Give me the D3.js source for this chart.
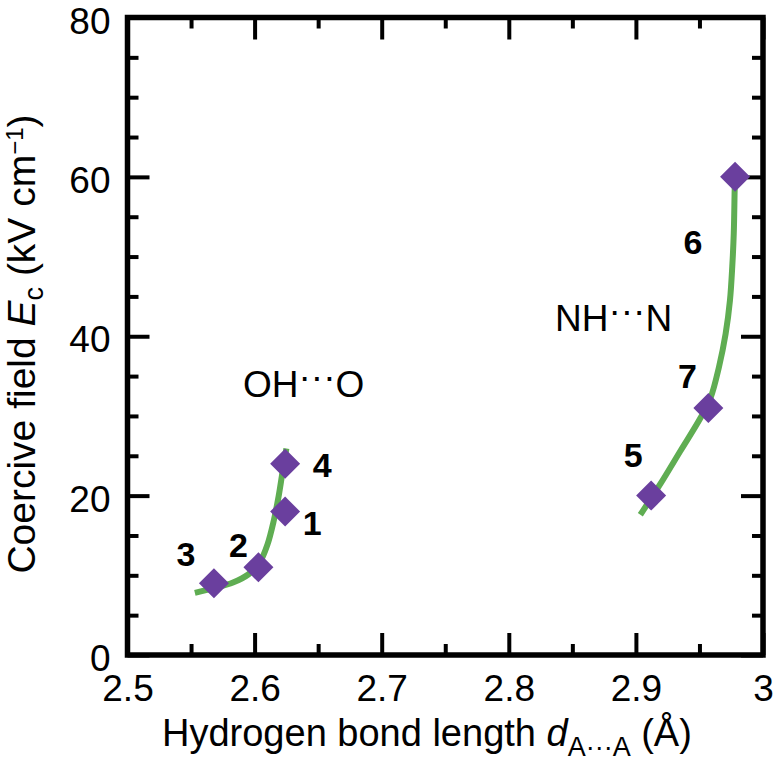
<!DOCTYPE html>
<html>
<head>
<meta charset="utf-8">
<script src="https://cdn.jsdelivr.net/npm/d3@7"></script>
<style>
  body { margin: 0; background: #ffffff; }
  text { font-family: "Liberation Sans", Arial, Helvetica, sans-serif; }
</style>
</head>
<body>
<div id="my_dataviz_coercive"></div>
<script>
// data
const oh_labels = ["1", "2", "3", "4"];
const oh_length = [2.624, 2.603, 2.568, 2.624];
const oh_field = [18, 11, 9, 24];

const nh_labels = ["5", "6", "7"];
const nh_length = [2.912, 2.978, 2.957];
const nh_field = [20, 60, 31];

// fitted guide curves
const oh_curve_x = [2.553, 2.568, 2.583, 2.595, 2.604, 2.610, 2.615, 2.619, 2.622, 2.625];
const oh_curve_y = [7.8, 8.4, 9.1, 10.1, 11.6, 13.8, 16.8, 20.0, 23.0, 25.9];
const nh_curve_x = [2.9035, 2.919, 2.935, 2.951, 2.9588, 2.9653, 2.9706, 2.974, 2.9758, 2.977, 2.9777, 2.978];
const nh_curve_y = [17.6, 21.4, 25.6, 29.8, 32.3, 36.1, 40.3, 44.5, 48.7, 52.9, 58.3, 60];

// ticks
const x_ticks = [2.5, 2.6, 2.7, 2.8, 2.9, 3.0];
const x_tick_labels = ["2.5", "2.6", "2.7", "2.8", "2.9", "3"];
const x_minor = [2.55, 2.65, 2.75, 2.85, 2.95];
const y_ticks = [0, 20, 40, 60, 80];
const y_tick_labels = ["0", "20", "40", "60", "80"];
const y_minor = [5, 10, 15, 25, 30, 35, 45, 50, 55, 65, 70, 75];

function generate_svg_coercive(){
  const margin = {top: 17.5, right: 12, bottom: 118, left: 127.5};
  const width = 775 - margin.left - margin.right;
  const height = 773 - margin.top - margin.bottom;

  const purple = "#6a3f9e";
  const green = "#5fad52";

  const svg = d3.select("#my_dataviz_coercive")
    .append("svg")
      .attr("width", 775)
      .attr("height", 773)
    .append("g")
      .attr("transform", `translate(${margin.left}, ${margin.top})`);

  const x = d3.scaleLinear().domain([2.5, 3]).range([0, width]);
  const y = d3.scaleLinear().domain([0, 80]).range([height, 0]);

  // axes, ticks pointing inward on all four sides
  function styleAxis(g){
    g.attr("font-size", null).attr("font-family", null);
    g.select(".domain").remove();
    g.selectAll(".tick line").attr("stroke", "#000").attr("stroke-width", 4);
    g.selectAll(".tick text")
      .style("font-size", "37px")
      .style("fill", "#000");
  }

  svg.append("g")
    .attr("transform", `translate(0, ${height})`)
    .call(d3.axisBottom(x).tickValues(x_ticks).tickSize(-22).tickPadding(20)
      .tickFormat((d, i) => x_tick_labels[i]))
    .call(styleAxis);
  svg.append("g")
    .attr("transform", `translate(0, ${height})`)
    .call(d3.axisBottom(x).tickValues(x_minor).tickSize(-11).tickFormat(""))
    .call(styleAxis);
  svg.append("g")
    .call(d3.axisTop(x).tickValues(x_ticks).tickSize(-22).tickFormat(""))
    .call(styleAxis);
  svg.append("g")
    .call(d3.axisTop(x).tickValues(x_minor).tickSize(-11).tickFormat(""))
    .call(styleAxis);

  svg.append("g")
    .call(d3.axisLeft(y).tickValues(y_ticks).tickSize(-22).tickPadding(17)
      .tickFormat((d, i) => y_tick_labels[i]))
    .call(styleAxis)
    .selectAll(".tick text").attr("dy", "0.42em");
  svg.append("g")
    .call(d3.axisLeft(y).tickValues(y_minor).tickSize(-11).tickFormat(""))
    .call(styleAxis);
  svg.append("g")
    .attr("transform", `translate(${width}, 0)`)
    .call(d3.axisRight(y).tickValues(y_ticks).tickSize(-22).tickFormat(""))
    .call(styleAxis);
  svg.append("g")
    .attr("transform", `translate(${width}, 0)`)
    .call(d3.axisRight(y).tickValues(y_minor).tickSize(-11).tickFormat(""))
    .call(styleAxis);

  // frame
  svg.append("rect")
    .attr("x", 0)
    .attr("y", 0)
    .attr("width", width)
    .attr("height", height)
    .style("fill", "none")
    .style("stroke", "#000")
    .style("stroke-width", 5.5);

  // text label for the x axis
  const xlab = svg.append("text")
    .attr("x", 162 - margin.left)
    .attr("y", 746 - margin.top)
    .style("font-size", "38px")
    .style("fill", "#000");
  xlab.append("tspan").text("Hydrogen bond length ");
  xlab.append("tspan").style("font-style", "italic").text("d");
  xlab.append("tspan").attr("dy", 10).style("font-size", "27px").text("A\u00b7\u00b7\u00b7A");
  xlab.append("tspan").attr("dy", -10).text(" (\u00c5)");

  // text label for the y axis
  const ylab = svg.append("text")
    .attr("transform", "rotate(-90)")
    .attr("x", -(344 - margin.top))
    .attr("y", 35 - margin.left)
    .style("text-anchor", "middle")
    .style("font-size", "39px")
    .style("fill", "#000");
  ylab.append("tspan").text("Coercive field ");
  ylab.append("tspan").style("font-style", "italic").text("E");
  ylab.append("tspan").attr("dy", 8).style("font-size", "27px").text("c");
  ylab.append("tspan").attr("dy", -8).text(" (kV cm");
  ylab.append("tspan").attr("dy", -12).style("font-size", "24px").text("\u22121");
  ylab.append("tspan").attr("dy", 12).text(")");

  // guide curves
  const line = d3.line()
    .x(d => x(d[0]))
    .y(d => y(d[1]))
    .curve(d3.curveCatmullRom.alpha(0.5));

  const curves = [
    d3.zip(oh_curve_x, oh_curve_y),
    d3.zip(nh_curve_x, nh_curve_y)
  ];
  svg.selectAll("myLines")
    .data(curves)
    .join("path")
      .attr("d", d => line(d))
      .style("fill", "none")
      .style("stroke", green)
      .style("stroke-width", 6);

  // points
  const points = oh_labels.map((l, i) => ({label: l, x: oh_length[i], y: oh_field[i]}))
    .concat(nh_labels.map((l, i) => ({label: l, x: nh_length[i], y: nh_field[i]})));

  // where each number sits relative to its marker (px)
  const label_offset = {
    "1": [27, 11], "2": [-20, -23], "3": [-28, -30], "4": [37, 1],
    "5": [-18, -41], "6": [-42, 65], "7": [-21, -32]
  };

  svg.selectAll("myPoints")
    .data(points)
    .join("path")
      .attr("d", d3.symbol(d3.symbolSquare, 450))
      .attr("transform", d => `translate(${x(d.x)}, ${y(d.y)}) rotate(45)`)
      .style("fill", purple);

  svg.selectAll("myLabels")
    .data(points)
    .join("text")
      .attr("x", d => x(d.x) + label_offset[d.label][0])
      .attr("y", d => y(d.y) + label_offset[d.label][1])
      .attr("dy", "0.36em")
      .style("text-anchor", "middle")
      .style("font-size", "34px")
      .style("font-weight", "bold")
      .style("fill", "#000")
      .text(d => d.label);

  // bond type annotations
  function bondLabel(parts, xpos, ypos){
    const t = svg.append("text")
      .attr("x", xpos - margin.left)
      .attr("y", ypos - margin.top)
      .style("font-size", "37px")
      .style("fill", "#000");
    t.append("tspan").text(parts[0]);
    t.append("tspan").attr("dy", -8).text("\u00b7\u00b7\u00b7");
    t.append("tspan").attr("dy", 8).text(parts[1]);
  }
  bondLabel(["OH", "O"], 243, 397);
  bondLabel(["NH", "N"], 555, 331);
}

generate_svg_coercive();
</script>
</body>
</html>
